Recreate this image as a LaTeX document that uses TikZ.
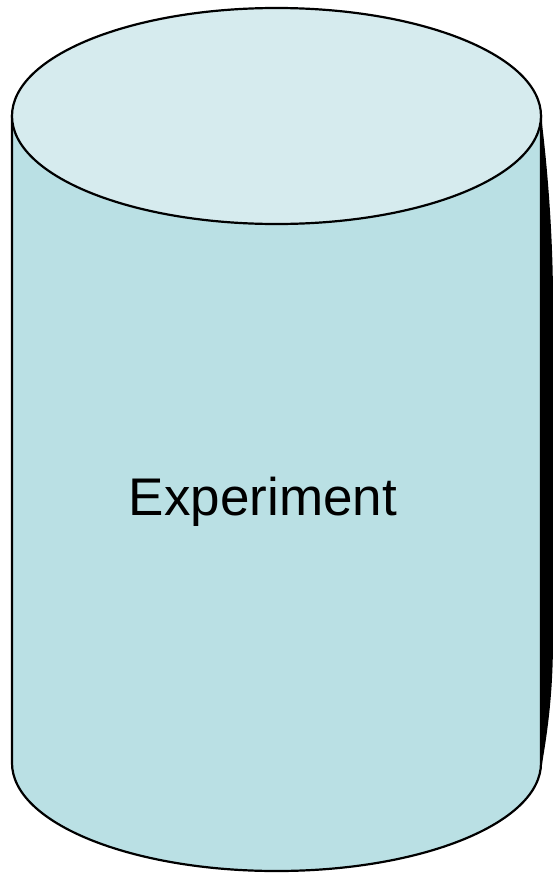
\documentclass[tikz,border=0pt]{standalone}
\usepackage{fontspec}
\setmainfont{Liberation Sans}
\usepackage{xcolor}
\usetikzlibrary{positioning}
\definecolor{cyltop}{RGB}{214,235,238}
\definecolor{cylside}{RGB}{186,224,228}

\begin{document}
\begin{tikzpicture}[x=1pt, y=1pt, line width=2.2pt]
    \useasboundingbox (0,0) rectangle (553,-873);
    % Schatten rechts
    \fill[black] (541,-116) .. controls (548,-170) and (553,-240) .. (553,-300)
        -- (553,-640) .. controls (553,-700) and (546,-740) .. (541,-770) -- cycle;
    % Mantel
    \filldraw[fill=cylside] (12,-116) -- (12,-763) arc (180:360:264.5pt and 108pt)
        -- (541,-116) -- cycle;
    % Deckel
    \filldraw[fill=cyltop] (276.5,-116) ellipse (264.5pt and 108pt);
    % Beschriftung
    \node[font=\fontsize{53}{62}\selectfont] (exp) at (263,-502) {Experiment};
\end{tikzpicture}
\end{document}
